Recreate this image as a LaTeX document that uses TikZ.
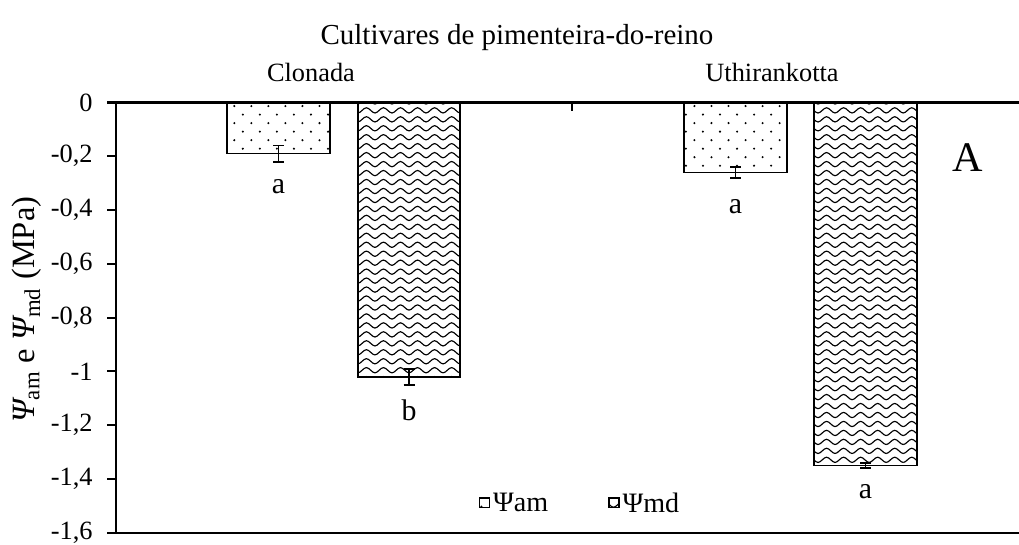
\documentclass[tikz,border=0pt]{standalone}
\usepackage{fontspec}
\setmainfont{Liberation Serif}
\usetikzlibrary{patterns, positioning}

% padrao de pontos (Psi am)
\pgfdeclarepatternformonly{pontos}{\pgfpoint{-1pt}{-1pt}}{\pgfpoint{10.7pt}{10.7pt}}{\pgfpoint{9.7pt}{9.7pt}}{%
  \pgfpathcircle{\pgfpoint{2.4pt}{2.4pt}}{0.65pt}
  \pgfpathcircle{\pgfpoint{7.25pt}{7.25pt}}{0.65pt}
  \pgfusepath{fill}}
% padrao de ondas (Psi md)
\pgfdeclarepatternformonly{ondas}{\pgfpoint{-1pt}{-1pt}}{\pgfpoint{10.7pt}{6.1pt}}{\pgfpoint{9.7pt}{5.1pt}}{%
  \pgfsetlinewidth{0.65pt}
  \pgfpathmoveto{\pgfpoint{0pt}{1.0pt}}
  \pgfpathcurveto{\pgfpoint{1.6pt}{1.0pt}}{\pgfpoint{3.2pt}{4.0pt}}{\pgfpoint{4.85pt}{4.0pt}}
  \pgfpathcurveto{\pgfpoint{6.5pt}{4.0pt}}{\pgfpoint{8.1pt}{1.0pt}}{\pgfpoint{9.7pt}{1.0pt}}
  \pgfusepath{stroke}}

\begin{document}
\begin{tikzpicture}[x=0.02cm, y=5.38cm,
            eixo/.style = {line width=1.2pt},
            barra_am/.style = {draw, line width=1pt, pattern=pontos},
            barra_md/.style = {draw, line width=1pt, pattern=ondas},
            erro/.style = {line width=1pt},
            rotulo/.style = {inner sep=0pt, font=\fontsize{15}{18}\selectfont},
            letra/.style = {inner sep=0pt, font=\fontsize{17}{20}\selectfont},
            cultivar/.style = {font=\fontsize{15}{18}\selectfont},
            legenda/.style = {draw, line width=0.8pt, minimum size=5.5pt, inner sep=0pt},
            txtleg/.style = {inner sep=0pt, font=\fontsize{16}{19}\selectfont}
            ]
  \useasboundingbox (0,0.381) rectangle (1019,-1.645);

  % --- Titulo e cultivares ---
  \node[font=\fontsize{16.5}{20}\selectfont] (titulo) at (517,0.24) {Cultivares de pimenteira-do-reino};
  \node[cultivar] (clonada) at (311,0.11) {Clonada};
  \node[cultivar] (uthira) at (772,0.11) {Uthirankotta};
  \node[font=\fontsize{24}{28}\selectfont] (painel) at (968,-0.206) {A};

  % --- Eixos ---
  \draw[eixo] (1019,0) -- (116,0) -- (116,-1.6) -- (1019,-1.6);
  \draw[eixo] (572,0) -- (572,-0.03);
  \foreach \v/\t in {0/0, -0.2/{-0,2}, -0.4/{-0,4}, -0.6/{-0,6}, -0.8/{-0,8}, -1/{-1},
                     -1.2/{-1,2}, -1.4/{-1,4}, -1.6/{-1,6}}{
    \draw[eixo] (107,\v) -- (116,\v);
    \node[rotulo, anchor=east] at (93,\v) {\t};
  }
  \node[rotate=90, font=\fontsize{18.5}{22}\selectfont] (ylabel) at (27,-0.771)
    {{\itshape Ψ}\textsubscript{am} e {\itshape Ψ}\textsubscript{md} (MPa)};

  % --- Barras ---
  \draw[barra_am] (227,0) rectangle (330,-0.19);
  \draw[barra_md] (358,0) rectangle (460,-1.02);
  \draw[barra_am] (684,0) rectangle (787,-0.26);
  \draw[barra_md] (814,0) rectangle (917,-1.35);

  % --- Barras de erro ---
  \coordinate (e1a) at (278.5,-0.16); \coordinate (e1b) at (278.5,-0.22);
  \coordinate (e2a) at (409,-0.99);   \coordinate (e2b) at (409,-1.05);
  \coordinate (e3a) at (735.5,-0.24); \coordinate (e3b) at (735.5,-0.28);
  \coordinate (e4a) at (865.5,-1.34); \coordinate (e4b) at (865.5,-1.36);
  \foreach \e in {1,2,3,4}{
    \draw[erro] (e\e a) -- (e\e b);
    \draw[erro] ([xshift=-0.11cm]e\e a) -- ([xshift=0.11cm]e\e a);
    \draw[erro] ([xshift=-0.11cm]e\e b) -- ([xshift=0.11cm]e\e b);
  }

  % --- Letras ---
  \node[letra] (l1) at (278.5,-0.314) {a};
  \node[letra] (l2) at (409,-1.143) {b};
  \node[letra] (l3) at (735.5,-0.388) {a};
  \node[letra] (l4) at (865.5,-1.448) {a};

  % --- Legenda ---
  \node[legenda, pattern=pontos] (leg_am) at (484.5,-1.489) {};
  \node[txtleg, right=1.5pt of leg_am] (txt_am) {Ψam};
  \node[legenda, pattern=ondas] (leg_md) at (614,-1.489) {};
  \node[txtleg, right=1.5pt of leg_md] (txt_md) {Ψmd};

\end{tikzpicture}
\end{document}
